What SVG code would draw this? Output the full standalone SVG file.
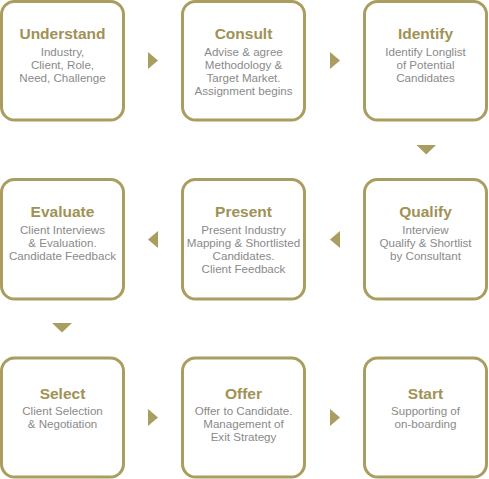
<svg xmlns="http://www.w3.org/2000/svg" width="489" height="479" viewBox="0 0 489 479">
<style>
.box{fill:#fff;stroke:#a99d5f;stroke-width:3}
.t{font-family:"Liberation Sans",Arial,sans-serif;font-weight:bold;font-size:15.5px;fill:#a09255;text-anchor:middle}
.b{font-family:"Liberation Sans",Arial,sans-serif;font-size:11.6px;fill:#8a8a8a;text-anchor:middle}
.arr{fill:#a99d5f}
</style>
<rect width="489" height="479" fill="#fff"/>
<g id="understand"><rect class="box" x="1.5" y="1.5" width="122" height="118.5" rx="13"/>
<text class="t" x="62.5" y="39">Understand</text>
<text class="b" x="62.5" y="55.5">Industry,</text><text class="b" x="62.5" y="68.5">Client, Role,</text><text class="b" x="62.5" y="81.5">Need, Challenge</text></g>
<g id="consult"><rect class="box" x="182.5" y="1.5" width="122" height="118.5" rx="13"/>
<text class="t" x="243.5" y="39">Consult</text>
<text class="b" x="243.5" y="55.5">Advise &amp; agree</text><text class="b" x="243.5" y="68.5">Methodology &amp;</text><text class="b" x="243.5" y="81.5">Target Market.</text><text class="b" x="243.5" y="94.5">Assignment begins</text></g>
<g id="identify"><rect class="box" x="364.5" y="1.5" width="122" height="118.5" rx="13"/>
<text class="t" x="425.5" y="39">Identify</text>
<text class="b" x="425.5" y="55.5">Identify Longlist</text><text class="b" x="425.5" y="68.5">of Potential</text><text class="b" x="425.5" y="81.5">Candidates</text></g>
<g id="evaluate"><rect class="box" x="1.5" y="179.5" width="122" height="119.5" rx="13"/>
<text class="t" x="62.5" y="217">Evaluate</text>
<text class="b" x="62.5" y="233.5">Client Interviews</text><text class="b" x="62.5" y="246.5">&amp; Evaluation.</text><text class="b" x="62.5" y="259.5">Candidate Feedback</text></g>
<g id="present"><rect class="box" x="182.5" y="179.5" width="122" height="119.5" rx="13"/>
<text class="t" x="243.5" y="217">Present</text>
<text class="b" x="243.5" y="233.5">Present Industry</text><text class="b" x="243.5" y="246.5">Mapping &amp; Shortlisted</text><text class="b" x="243.5" y="259.5">Candidates.</text><text class="b" x="243.5" y="272.5">Client Feedback</text></g>
<g id="qualify"><rect class="box" x="364.5" y="179.5" width="122" height="119.5" rx="13"/>
<text class="t" x="425.5" y="217">Qualify</text>
<text class="b" x="425.5" y="233.5">Interview</text><text class="b" x="425.5" y="246.5">Qualify &amp; Shortlist</text><text class="b" x="425.5" y="259.5">by Consultant</text></g>
<g id="select"><rect class="box" x="1.5" y="358" width="122" height="119" rx="13"/>
<text class="t" x="62.5" y="398.5">Select</text>
<text class="b" x="62.5" y="415">Client Selection</text><text class="b" x="62.5" y="428">&amp; Negotiation</text></g>
<g id="offer"><rect class="box" x="182.5" y="358" width="122" height="119" rx="13"/>
<text class="t" x="243.5" y="398.5">Offer</text>
<text class="b" x="243.5" y="415">Offer to Candidate.</text><text class="b" x="243.5" y="428">Management of</text><text class="b" x="243.5" y="441">Exit Strategy</text></g>
<g id="start"><rect class="box" x="364.5" y="358" width="122" height="119" rx="13"/>
<text class="t" x="425.5" y="398.5">Start</text>
<text class="b" x="425.5" y="415">Supporting of</text><text class="b" x="425.5" y="428">on-boarding</text></g>
<g id="connectors" class="arr">
<polygon points="148,52 158,60.5 148,69"/>
<polygon points="330,52 340,60.5 330,69"/>
<polygon points="416.5,145 436,145 426.25,154.5"/>
<polygon points="340,231 330,239.5 340,248"/>
<polygon points="158,231 148,239.5 158,248"/>
<polygon points="52,323 72,323 62,332.5"/>
<polygon points="148,409 158,417.5 148,426"/>
<polygon points="330,409 340,417.5 330,426"/>
</g>
</svg>
